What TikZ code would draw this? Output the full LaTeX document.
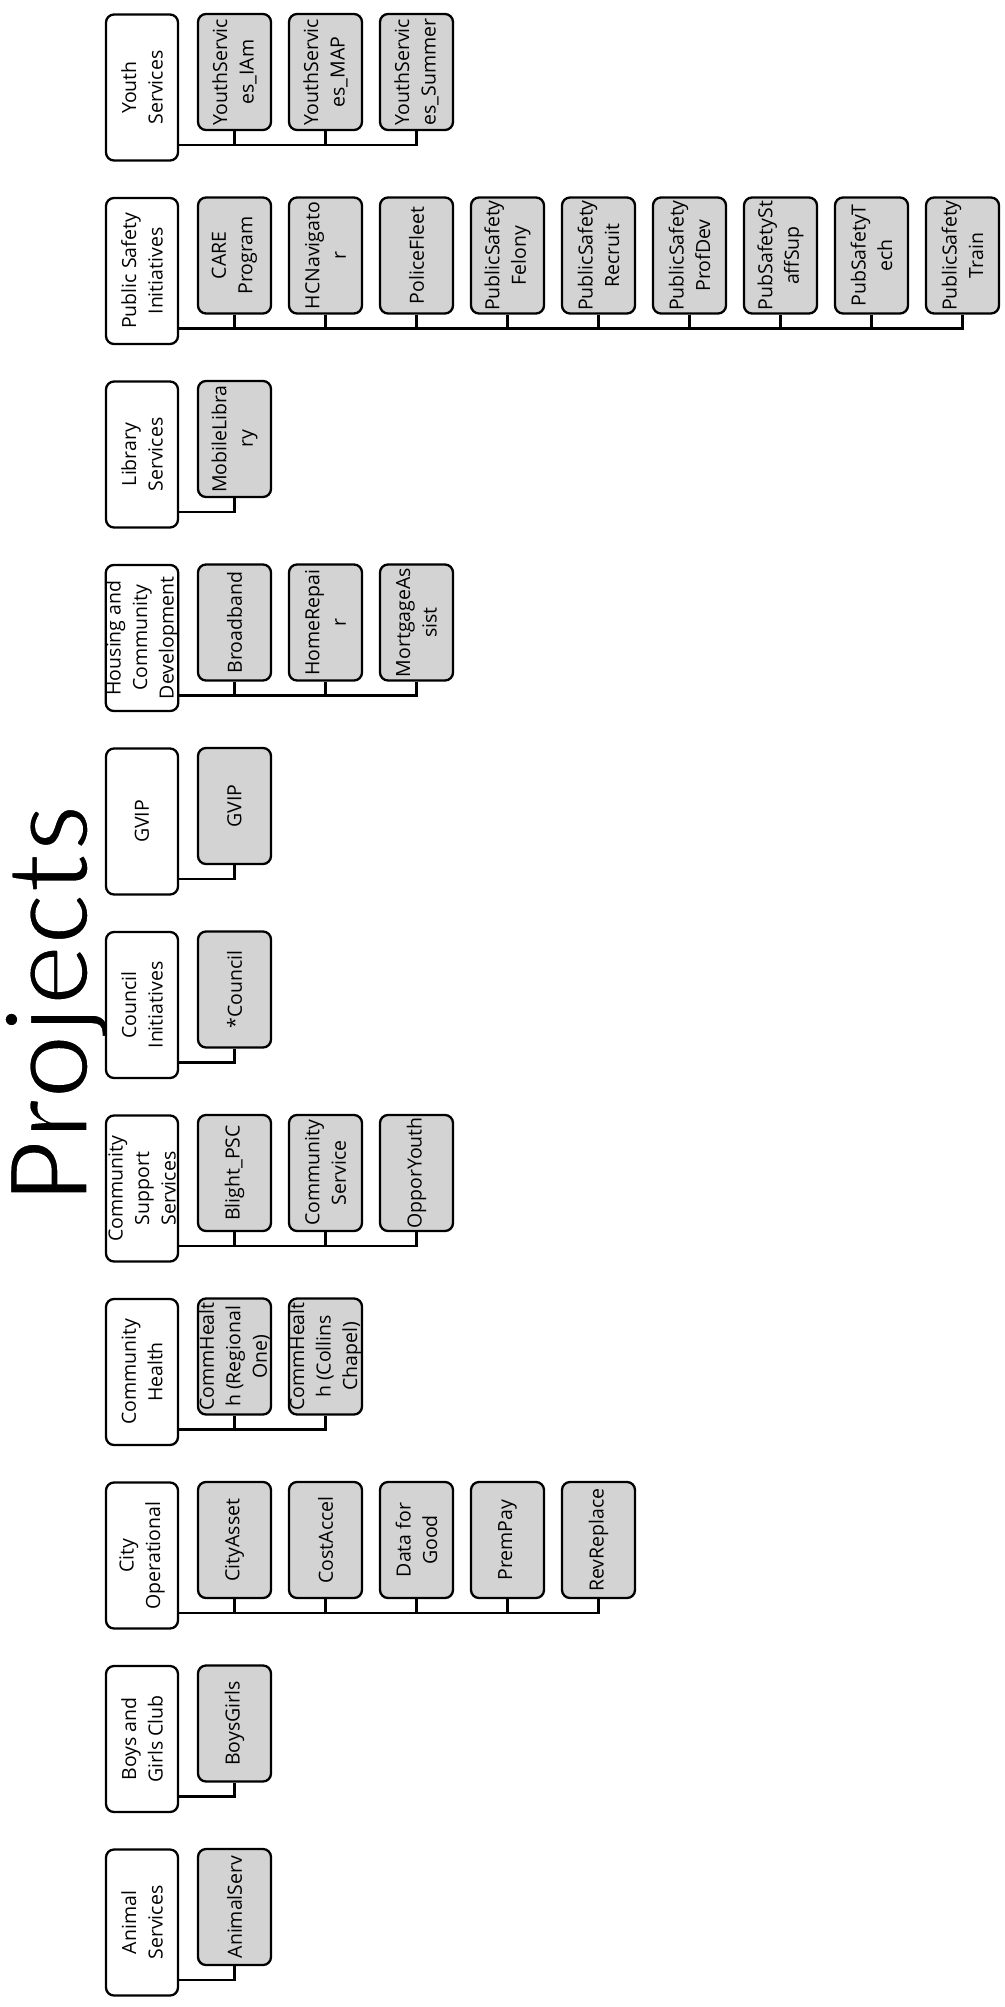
\documentclass[tikz,border=0pt]{standalone}
\usepackage{fontspec}
\setmainfont{Open Sans}
\newfontfamily\titlefont{Carlito}
\usepackage{xcolor}
\usepackage{tikz}
\usetikzlibrary{positioning, calc}

\definecolor{projgray}{RGB}{211,211,211}

\begin{document}
\begin{tikzpicture}[
  x=1pt, y=-1pt,
  grp/.style={rectangle, rounded corners=8pt, draw=black, line width=2.3pt, fill=white,
    rotate=90, minimum width=146pt, minimum height=72pt, inner sep=0pt, align=center,
    font=\fontsize{19.5}{26.5}\selectfont},
  proj/.style={grp, fill=projgray, minimum width=116pt, minimum height=73pt},
  link/.style={line width=2.1pt}
]
  \useasboundingbox (0,0) rectangle (1004,2007);

  \node[font=\titlefont\fontsize{122}{122}\selectfont, rotate=90, anchor=base] (title) at (88, 1003.5)
    {\special{pdf:literal 2 Tr 1 1 1 RG 3 w}Projects};

  \node[grp] (youth) at (142, 87.5) {Youth\\Services};
  \node[proj] (youth1) at (234.5, 72) {YouthServic\\es\_IAm};
  \node[proj] (youth2) at (325.5, 72) {YouthServic\\es\_MAP};
  \node[proj] (youth3) at (416.5, 72) {YouthServic\\es\_Summer};

  \node[grp] (psi) at (142, 271) {Public Safety\\Initiatives};
  \node[proj] (psi1) at (234.5, 255.5) {CARE\\Program};
  \node[proj] (psi2) at (325.5, 255.5) {HCNavigato\\r};
  \node[proj] (psi3) at (416.5, 255.5) {PoliceFleet};
  \node[proj] (psi4) at (507.5, 255.5) {PublicSafety\\Felony};
  \node[proj] (psi5) at (598.5, 255.5) {PublicSafety\\Recruit};
  \node[proj] (psi6) at (689.5, 255.5) {PublicSafety\\ProfDev};
  \node[proj] (psi7) at (780.5, 255.5) {PubSafetySt\\affSup};
  \node[proj] (psi8) at (871.5, 255.5) {PubSafetyT\\ech};
  \node[proj] (psi9) at (962.5, 255.5) {PublicSafety\\Train};

  \node[grp] (lib) at (142, 454.5) {Library\\Services};
  \node[proj] (lib1) at (234.5, 439) {MobileLibra\\ry};

  \node[grp] (hcd) at (142, 638) {Housing and\\Community\\Development};
  \node[proj] (hcd1) at (234.5, 622.5) {Broadband};
  \node[proj] (hcd2) at (325.5, 622.5) {HomeRepai\\r};
  \node[proj] (hcd3) at (416.5, 622.5) {MortgageAs\\sist};

  \node[grp] (gvip) at (142, 821.5) {GVIP};
  \node[proj] (gvip1) at (234.5, 806) {GVIP};

  \node[grp] (council) at (142, 1005) {Council\\Initiatives};
  \node[proj] (council1) at (234.5, 989.5) {*Council};

  \node[grp] (css) at (142, 1188.5) {Community\\Support\\Services};
  \node[proj] (css1) at (234.5, 1173) {Blight\_PSC};
  \node[proj] (css2) at (325.5, 1173) {Community\\Service};
  \node[proj] (css3) at (416.5, 1173) {OpporYouth};

  \node[grp] (health) at (142, 1372) {Community\\Health};
  \node[proj] (health1) at (234.5, 1356.5) {CommHealt\\h (Regional\\One)};
  \node[proj] (health2) at (325.5, 1356.5) {CommHealt\\h (Collins\\Chapel)};

  \node[grp] (cityop) at (142, 1555.5) {City\\Operational};
  \node[proj] (cityop1) at (234.5, 1540) {CityAsset};
  \node[proj] (cityop2) at (325.5, 1540) {CostAccel};
  \node[proj] (cityop3) at (416.5, 1540) {Data for\\Good};
  \node[proj] (cityop4) at (507.5, 1540) {PremPay};
  \node[proj] (cityop5) at (598.5, 1540) {RevReplace};

  \node[grp] (bgc) at (142, 1739) {Boys and\\Girls Club};
  \node[proj] (bgc1) at (234.5, 1723.5) {BoysGirls};

  \node[grp] (animal) at (142, 1922.5) {Animal\\Services};
  \node[proj] (animal1) at (234.5, 1907) {AnimalServ};

  \coordinate (youthbus) at (178, 145);
  \coordinate (psibus) at (178, 328.5);
  \coordinate (libbus) at (178, 512);
  \coordinate (hcdbus) at (178, 695.5);
  \coordinate (gvipbus) at (178, 879);
  \coordinate (councilbus) at (178, 1062.5);
  \coordinate (cssbus) at (178, 1246);
  \coordinate (healthbus) at (178, 1429.5);
  \coordinate (cityopbus) at (178, 1613);
  \coordinate (bgcbus) at (178, 1796.5);
  \coordinate (animalbus) at (178, 1980);

  \draw[link] (youth.south |- youthbus) -| (youth3.west);
  \draw[link] (youth1.west) -- (youth1.west |- youthbus);
  \draw[link] (youth2.west) -- (youth2.west |- youthbus);

  \draw[link] (psi.south |- psibus) -| (psi9.west);
  \draw[link] (psi1.west) -- (psi1.west |- psibus);
  \draw[link] (psi2.west) -- (psi2.west |- psibus);
  \draw[link] (psi3.west) -- (psi3.west |- psibus);
  \draw[link] (psi4.west) -- (psi4.west |- psibus);
  \draw[link] (psi5.west) -- (psi5.west |- psibus);
  \draw[link] (psi6.west) -- (psi6.west |- psibus);
  \draw[link] (psi7.west) -- (psi7.west |- psibus);
  \draw[link] (psi8.west) -- (psi8.west |- psibus);

  \draw[link] (lib.south |- libbus) -| (lib1.west);

  \draw[link] (hcd.south |- hcdbus) -| (hcd3.west);
  \draw[link] (hcd1.west) -- (hcd1.west |- hcdbus);
  \draw[link] (hcd2.west) -- (hcd2.west |- hcdbus);

  \draw[link] (gvip.south |- gvipbus) -| (gvip1.west);

  \draw[link] (council.south |- councilbus) -| (council1.west);

  \draw[link] (css.south |- cssbus) -| (css3.west);
  \draw[link] (css1.west) -- (css1.west |- cssbus);
  \draw[link] (css2.west) -- (css2.west |- cssbus);

  \draw[link] (health.south |- healthbus) -| (health2.west);
  \draw[link] (health1.west) -- (health1.west |- healthbus);

  \draw[link] (cityop.south |- cityopbus) -| (cityop5.west);
  \draw[link] (cityop1.west) -- (cityop1.west |- cityopbus);
  \draw[link] (cityop2.west) -- (cityop2.west |- cityopbus);
  \draw[link] (cityop3.west) -- (cityop3.west |- cityopbus);
  \draw[link] (cityop4.west) -- (cityop4.west |- cityopbus);

  \draw[link] (bgc.south |- bgcbus) -| (bgc1.west);

  \draw[link] (animal.south |- animalbus) -| (animal1.west);
\end{tikzpicture}
\end{document}
